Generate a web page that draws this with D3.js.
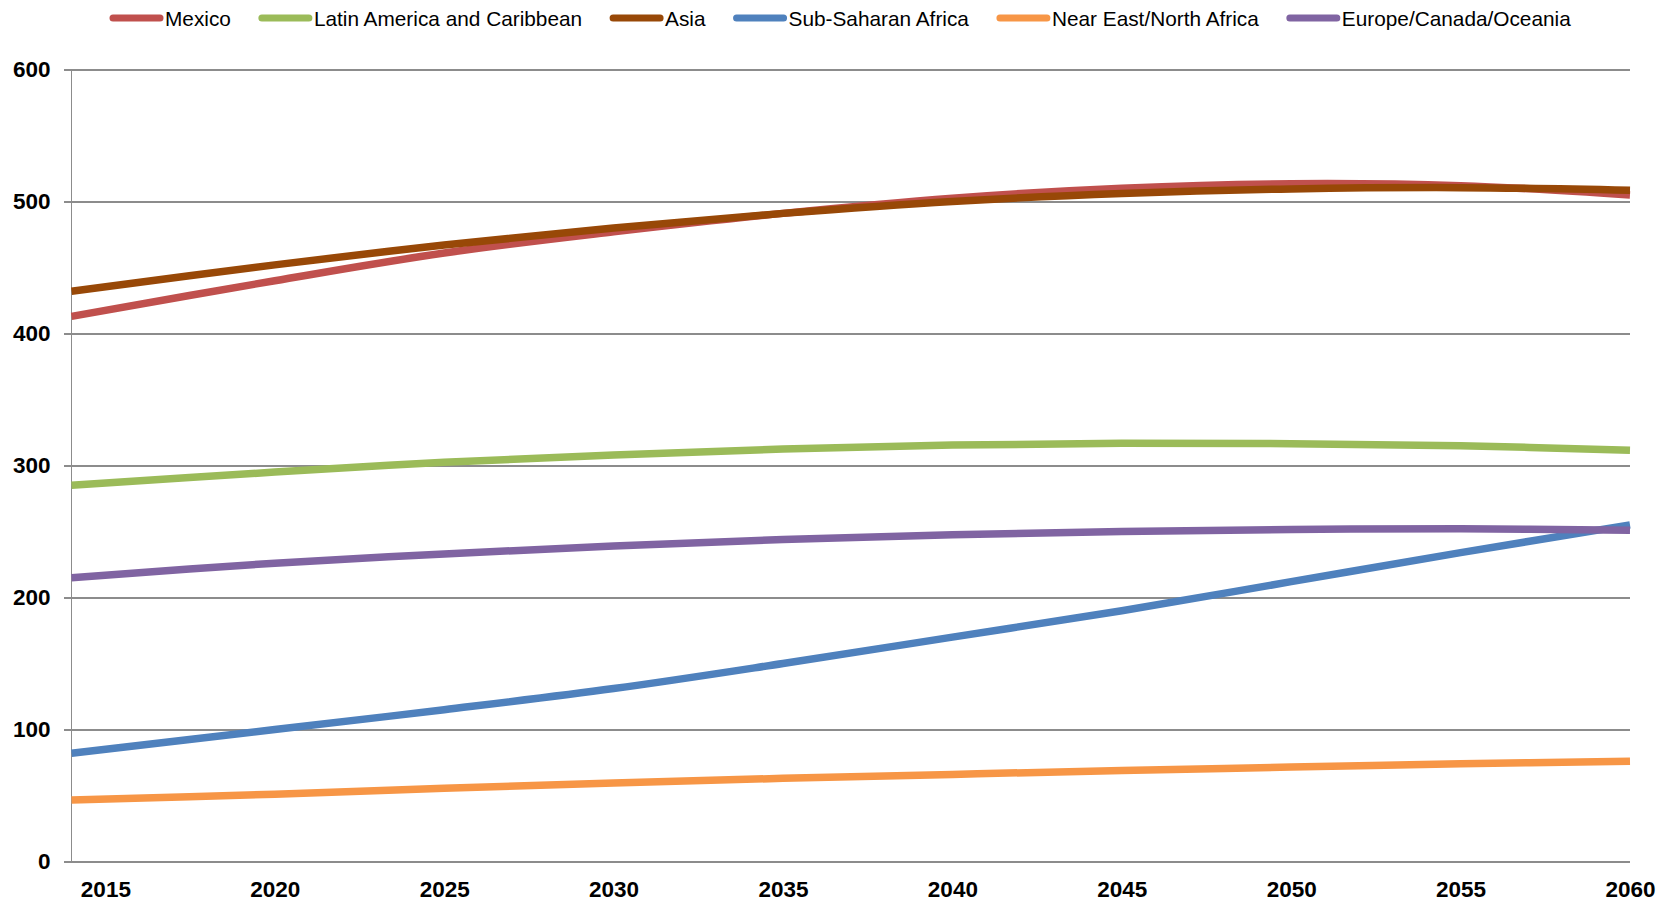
<!DOCTYPE html>
<html>
<head>
<meta charset="utf-8">
<script src="https://cdn.jsdelivr.net/npm/d3@7"></script>
<style>
  html, body { margin: 0; padding: 0; background: #fff; }
  svg { display: block; }
</style>
</head>
<body>
<svg id="chart" width="1669" height="905"></svg>
<script>
// ---- data ----
const years = [2014, 2020, 2025, 2030, 2035, 2040, 2045, 2050, 2055, 2060];
const seriesNames = ["Mexico", "Latin America and Caribbean", "Asia", "Sub-Saharan Africa", "Near East/North Africa", "Europe/Canada/Oceania"];
const mexico      = [413, 440, 461, 477, 491, 502.5, 510, 513.5, 512, 505];
const latinAm     = [285, 295, 302.5, 308, 312.5, 315.5, 316.8, 316.5, 315, 311.5];
const asia        = [432, 452, 467, 480, 491, 500, 506, 509.5, 510.5, 508.5];
const subSaharan  = [82, 100, 115, 131, 150, 170, 190, 212, 234, 255];
const nearEast    = [46.5, 51, 55.5, 59.5, 63, 66, 69, 71.5, 74, 76];
const europe      = [215, 226, 233, 239, 244, 247.5, 250, 251.5, 252, 251];
const xTickYears  = [2015, 2020, 2025, 2030, 2035, 2040, 2045, 2050, 2055, 2060];
const yTicks      = [0, 100, 200, 300, 400, 500, 600];
const colors      = ["#C0504D", "#9BBB59", "#984807", "#4F81BD", "#F79646", "#8064A2"];

const seriesValues = [mexico, latinAm, asia, subSaharan, nearEast, europe];

// ---- layout ----
const svg = d3.select("#chart");
const plot = { left: 71.5, right: 1630, top: 69.5, bottom: 861.5 };

const x = d3.scaleLinear().domain([2014, 2060]).range([plot.left, plot.right]);
const y = d3.scaleLinear().domain([0, 600]).range([plot.bottom, plot.top]);

const gridColor = "#8c8c8c";

// gridlines + y axis
const yAxis = d3.axisLeft(y).tickValues(yTicks).tickSize(plot.right - plot.left + 8).tickPadding(13).tickFormat(d3.format("d"));
const gy = svg.append("g")
  .attr("transform", `translate(${plot.right},0)`)
  .call(yAxis);
gy.select(".domain").remove();
gy.selectAll(".tick line").attr("stroke", gridColor).attr("stroke-width", 1.3).attr("shape-rendering", "crispEdges");
gy.selectAll(".tick text")
  .attr("font-family", "'Liberation Sans', Arial, sans-serif")
  .attr("font-weight", "bold")
  .attr("font-size", 22.5)
  .attr("fill", "#000");

// left axis line
svg.append("line")
  .attr("x1", plot.left).attr("x2", plot.left)
  .attr("y1", plot.top).attr("y2", plot.bottom)
  .attr("stroke", gridColor).attr("stroke-width", 1.3).attr("shape-rendering", "crispEdges");

// x axis labels
const xAxis = d3.axisBottom(x).tickValues(xTickYears).tickSize(0).tickPadding(20).tickFormat(d3.format("d"));
const gx = svg.append("g")
  .attr("transform", `translate(0,${plot.bottom})`)
  .call(xAxis);
gx.select(".domain").remove();
gx.selectAll(".tick text")
  .attr("font-family", "'Liberation Sans', Arial, sans-serif")
  .attr("font-weight", "bold")
  .attr("font-size", 22.5)
  .attr("fill", "#000");

// lines
const line = d3.line()
  .x(d => x(d[0]))
  .y(d => y(d[1]))
  .curve(d3.curveCatmullRom.alpha(0.5));

seriesValues.forEach((vals, i) => {
  const pts = years.map((yr, j) => [yr, vals[j]]);
  svg.append("path")
    .datum(pts)
    .attr("fill", "none")
    .attr("stroke", colors[i])
    .attr("stroke-width", 7.5)
    .attr("stroke-linejoin", "round")
    .attr("d", line);
});

// legend
const legend = svg.append("g").attr("transform", "translate(0,18)");
let lx = 110;
seriesNames.forEach((name, i) => {
  legend.append("line")
    .attr("x1", lx + 3).attr("x2", lx + 50)
    .attr("y1", 0).attr("y2", 0)
    .attr("stroke", colors[i])
    .attr("stroke-width", 7)
    .attr("stroke-linecap", "round");
  const t = legend.append("text")
    .attr("x", lx + 55)
    .attr("y", 7.5)
    .attr("font-family", "'Liberation Sans', Arial, sans-serif")
    .attr("font-size", 20.8)
    .attr("fill", "#000")
    .text(name);
  lx = lx + 55 + t.node().getComputedTextLength() + 28;
});
</script>
</body>
</html>
